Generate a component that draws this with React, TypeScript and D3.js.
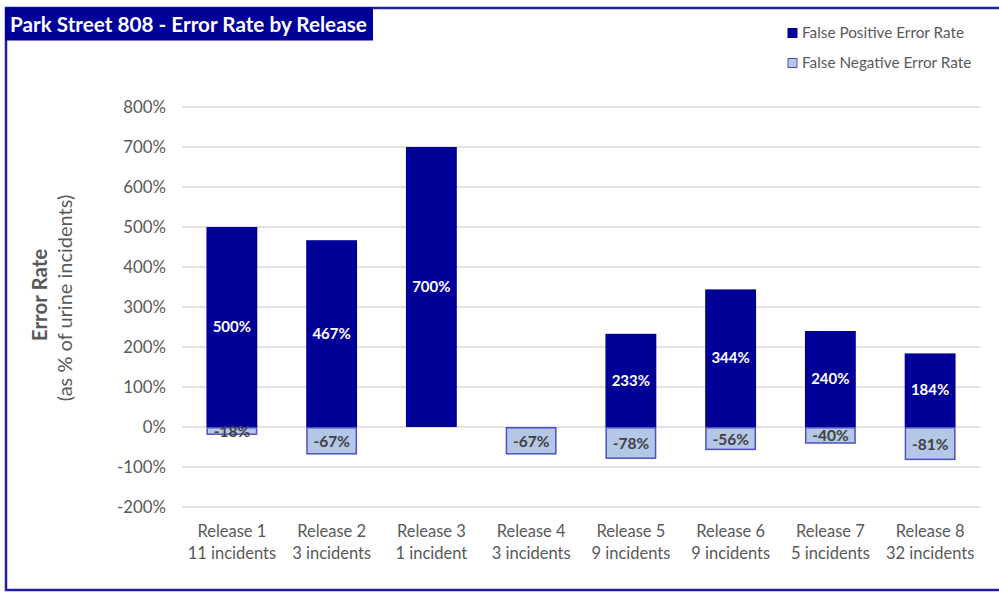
import React from "react";
import * as d3 from "d3";

const releases = ["Release 1", "Release 2", "Release 3", "Release 4", "Release 5", "Release 6", "Release 7", "Release 8"];
const incidents = ["11 incidents", "3 incidents", "1 incident", "3 incidents", "9 incidents", "9 incidents", "5 incidents", "32 incidents"];
const falsePositive = [500, 467, 700, null, 233, 344, 240, 184];
const falseNegative = [-18, -67, null, -67, -78, -56, -40, -81];
const yTicks = [800, 700, 600, 500, 400, 300, 200, 100, 0, -100, -200];
const seriesNames = ["False Positive Error Rate", "False Negative Error Rate"];
const title = "Park Street 808 - Error Rate by Release";

const W = 999, H = 593;
const FONT = "Lato, 'Open Sans', sans-serif";
const DARK = "#000099";
const LIGHT = "#b4c7e7";
const LIGHT_STROKE = "#4f4fc4";
const GRAY = "#595959";

export default function App() {
  const x = d3.scaleBand<number>().domain(d3.range(releases.length)).range([182, 980]).paddingInner(0.49).paddingOuter(0.245);
  const y = d3.scaleLinear().domain([-200, 800]).range([507, 107]);
  const bw = x.bandwidth();
  return (
    <svg width={W} height={H} style={{ position: "absolute", left: 0, top: 0, background: "#fff" }} fontFamily={FONT}>
      {/* frame */}
      <rect x={6} y={8} width={1100} height={582} fill="none" stroke="#1f1fa3" strokeWidth={2.5} />
      <rect x={5} y={7.5} width={368} height={33} fill={DARK} />
      <text x={10} y={31.5} fill="#fff" fontWeight="bold" fontSize={20.7}>{title}</text>

      {/* gridlines */}
      {yTicks.map((t) => (
        <g key={t}>
          <line x1={182} x2={980} y1={y(t)} y2={y(t)} stroke="#d9d9d9" strokeWidth={1.5} />
          <text x={166} y={y(t)} dy="0.35em" textAnchor="end" fill={GRAY} fontSize={16.8}>{t + "%"}</text>
        </g>
      ))}

      {/* bars */}
      {falsePositive.map((v, i) => v == null ? null : (
        <rect key={"p" + i} x={x(i)} y={y(v)} width={bw} height={y(0) - y(v)} fill={DARK} />
      ))}
      {falseNegative.map((v, i) => v == null ? null : (
        <rect key={"n" + i} x={x(i)! + 0.75} y={y(0) + 0.75} width={bw - 1.5} height={y(v) - y(0) - 0.75} fill={LIGHT} stroke={LIGHT_STROKE} strokeWidth={1.5} />
      ))}
      {falsePositive.map((v, i) => v == null ? null : (
        <text key={"pl" + i} x={x(i)! + bw / 2} y={(y(v) + y(0)) / 2} dy="0.35em" textAnchor="middle" fill="#fff" fontWeight="bold" fontSize={15}>{v + "%"}</text>
      ))}
      {falseNegative.map((v, i) => v == null ? null : (
        <text key={"nl" + i} x={x(i)! + bw / 2} y={(y(v) + y(0)) / 2 + 1} dy="0.35em" textAnchor="middle" fill="#404040" fontWeight="bold" fontSize={15.5}>{v + "%"}</text>
      ))}

      {/* x labels */}
      {releases.map((r, i) => {
        const cx = x(i)! + bw / 2;
        return (
          <g key={"xl" + i} transform={`translate(${cx},0)`}>
            <text x={0} y={531} dy="0.35em" textAnchor="middle" fill={GRAY} fontSize={16.5}>{r}</text>
            <text x={0} y={553} dy="0.35em" textAnchor="middle" fill={GRAY} fontSize={16.5}>{incidents[i]}</text>
          </g>
        );
      })}

      {/* y axis title */}
      <g transform="translate(47,295) rotate(-90)">
        <text x={0} y={0} textAnchor="middle" fill={GRAY} fontWeight="bold" fontSize={20.5}>Error Rate</text>
      </g>
      <g transform="translate(72,298) rotate(-90)">
        <text x={0} y={0} textAnchor="middle" fill={GRAY} fontSize={20}>(as % of urine incidents)</text>
      </g>

      {/* legend */}
      {seriesNames.map((s, i) => (
        <g key={s} transform={`translate(788,${33 + i * 30})`}>
          <rect x={0} y={-4.5} width={9} height={9} fill={i === 0 ? DARK : LIGHT} stroke={i === 0 ? DARK : LIGHT_STROKE} strokeWidth={1} />
          <text x={14} y={0} dy="0.35em" fill={GRAY} fontSize={15.3}>{s}</text>
        </g>
      ))}
    </svg>
  );
}
